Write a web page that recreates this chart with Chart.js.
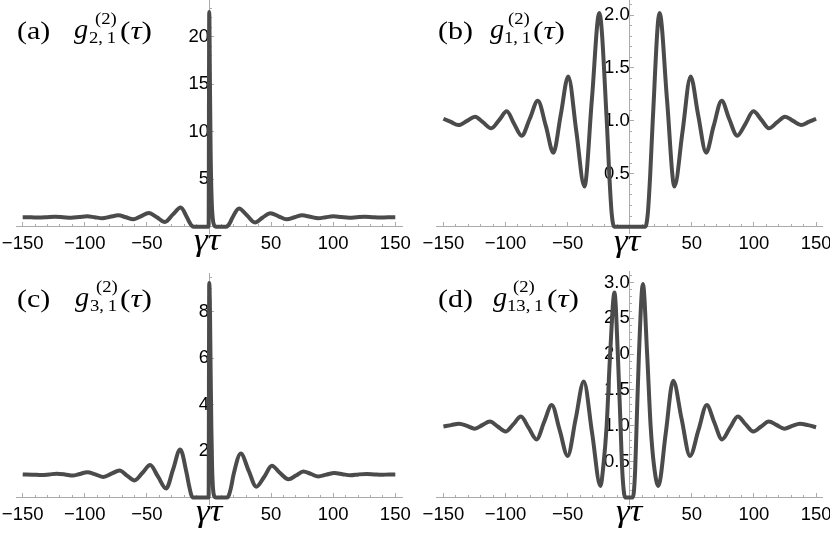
<!DOCTYPE html>
<html><head><meta charset="utf-8">
<script src="https://cdn.jsdelivr.net/npm/chart.js@4"></script>
<style>
html,body{margin:0;padding:0;background:#fff;}
#wrap{position:relative;width:830px;height:537px;overflow:hidden;background:#fff;}
canvas{position:absolute;}
.t{position:absolute;white-space:nowrap;font-family:'Liberation Serif','Times New Roman',serif;color:#000;line-height:1;transform-origin:0 0;}
</style></head><body><div id="wrap"></div>
<script>
// ---------- data ----------
const xTickValues = [-150, -100, -50, 50, 100, 150];

// panel (a) g^(2)_{2,1}
const tauA = [-150,-143.5,-137,-130.5,-124,-117.5,-111,-104.5,-98,-92,
              -86,-79.5,-73,-67,-61,-55,-48.5,-42,-35.5,-29,
              -22.8,-17.8,-15.6,-13.8,-12,-0.3,0.2,0.7,1.3,2.1,
              3.0,4.2,5.5,13.5,15.2,17,19,24.2,30.5,37,
              43,49.5,56,62.5,69,75,81.5,88,94,100,
              106.5,113,119,125.5,131.5,138,144,150];
const gA   = [1.0,1.0,0.97,1.0,1.04,1.0,0.95,1.02,1.1,1.0,
              0.9,1.05,1.2,1.0,0.78,1.1,1.45,1.0,0.5,1.3,
              2.02,1.0,0.45,0.1,0,0,22.6,16,8,3,
              0.9,0.15,0,0,0.1,0.45,1.0,1.92,1.2,0.45,
              0.95,1.42,1.1,0.78,1.0,1.2,1.05,0.9,1.0,1.1,
              1.02,0.95,1.0,1.04,1.0,0.97,1.0,1.0];

// panel (b) g^(2)_{1,1}
const tauB = [-150,-144,-138,-131,-124.5,-118,-111.5,-105,-99,-93,
              -87,-80.5,-74,-67.5,-61.5,-55.5,-49.5,-43,-36.5,-30.5,
              -24.5,-18.5,-16.5,-14.5,-12.5,12.5,14.5,16.5,18.5,24,
              30,36,42.5,49,55,61.5,67.5,74,80,86.5,
              93,99.5,106,112,118.5,125,131.5,138,144,150];
const gB   = [1.02,0.99,0.96,1.0,1.04,0.985,0.93,1.01,1.09,0.97,
              0.86,1.02,1.19,0.95,0.70,1.06,1.42,0.9,0.38,1.2,
              2.02,1.0,0.5,0.12,0,0,0.12,0.5,1.0,2.02,
              1.2,0.38,0.9,1.42,1.06,0.70,0.95,1.19,1.02,0.86,
              0.97,1.09,1.01,0.93,0.985,1.04,1.0,0.96,0.99,1.02];

// panel (c) g^(2)_{3,1}
const tauC = [-150,-142,-134.7,-128.5,-122.6,-116,-109.7,-104,-98,-91.5,
              -85,-78.5,-72,-66,-60,-53.5,-47.4,-41,-34.5,-29,
              -23.2,-18,-16,-14.3,-12.8,-0.3,0.2,0.8,1.3,1.9,
              2.5,3.3,4.3,5.3,14.5,16,17.8,19.8,25.6,32,
              38,44.5,50.6,57,64,70,76,82,88,94.5,
              101,107.5,113.8,120.5,127,133,139,145,150];
const gC   = [1.0,0.99,0.97,1.0,1.03,1.0,0.95,1.02,1.09,1.0,
              0.89,1.03,1.17,0.95,0.74,1.07,1.4,0.9,0.39,1.2,
              2.07,1.05,0.5,0.12,0,0,9.25,8,5.5,3,
              1.3,0.35,0.05,0,0,0.1,0.45,1.0,1.9,1.15,
              0.47,0.9,1.37,1.07,0.79,0.95,1.13,1.02,0.91,0.99,
              1.06,1.01,0.96,1.0,1.02,1.0,0.98,1.0,1.0];

// panel (d) g^(2)_{13,1}
const tauD = [-150,-143.7,-137.5,-131,-124.8,-118.7,-112.6,-106.3,-100,-93.8,
              -87.6,-81.3,-75,-69,-62.8,-56.4,-50,-43.5,-37,-30.3,
              -23.6,-21.2,-18.6,-15.8,-12.3,-9.6,-7.4,-6.1,-4.6,-3.4,
              2.0,3.2,4.4,5.5,7.4,10.6,14.0,16.8,19.5,23.0,
              29,35,41.7,48.5,55.3,62,68,74.3,80.6,87,
              93.3,99.5,105.8,112,118.3,124.5,130.8,137,143.5,150];
const gD   = [0.99,1.01,1.03,1.0,0.96,1.01,1.06,0.99,0.92,1.02,
              1.13,0.97,0.81,1.05,1.29,0.94,0.58,1.1,1.62,0.9,
              0.16,0.45,1.0,2.0,2.86,2.0,1.0,0.4,0.06,0,
              0,0.06,0.4,1.0,2.0,2.98,2.0,1.0,0.45,0.16,
              0.9,1.63,1.1,0.58,0.94,1.29,1.05,0.81,0.97,1.13,
              1.02,0.92,0.99,1.06,1.01,0.96,1.0,1.03,1.01,0.98];

const yTicksA = [5, 10, 15, 20];
const yTicksB = [0.5, 1.0, 1.5, 2.0];
const yTicksC = [2, 4, 6, 8];
const yTicksD = [0.5, 1.0, 1.5, 2.0, 2.5, 3.0];

const panelLetters = ['(a)', '(b)', '(c)', '(d)'];
const panelSubscripts = ['2,\u20091', '1,\u20091', '3,\u20091', '13,\u20091'];
const superscriptText = '(2)';
const xAxisTitle = 'γτ';

// ---------- layout / style ----------
const AXIS = '#ababab';
const LINE = '#4b4b4b';
const taus = [tauA, tauB, tauC, tauD];
const gs = [gA, gB, gC, gD];
const yTicks = [yTicksA, yTicksB, yTicksC, yTicksD];
const layoutCfg = [
  {left:0,   top:0,   w:415, h:268, pad:{left:16,   right:13,  top:0, bottom:34.7}, ymin:-0.69,  ymax:23.86, minor:1,   dec:0},
  {left:415, top:0,   w:415, h:268, pad:{left:21.7, right:7.2, top:0, bottom:34.7}, ymin:-0.062, ymax:2.142, minor:0.1, dec:1},
  {left:0,   top:268, w:415, h:269, pad:{left:16,   right:13,  top:5, bottom:32.9}, ymin:-0.28,  ymax:9.68,  minor:0.5, dec:0},
  {left:415, top:268, w:415, h:269, pad:{left:21.7, right:7.2, top:3, bottom:32.9}, ymin:-0.092, ymax:3.16,  minor:0.1, dec:1}
];
const titlePos = [
  {lx:17,  g:74,  sup:95,  sub:89,  tau:120, base:38,  gtx:194, gtb:250},
  {lx:438, g:490, sup:508, sub:504, tau:533, base:38,  gtx:614, gtb:251},
  {lx:17,  g:75,  sup:96,  sub:90,  tau:120, base:306, gtx:196, gtb:521},
  {lx:438, g:493, sup:513, sub:507, tau:547, base:306, gtx:616, gtb:521}
];

Chart.defaults.font.family = "'Liberation Sans', Arial, sans-serif";

const wrap = document.getElementById('wrap');
function addText(html, x, base, size, italic, sx) {
  const s = document.createElement('span');
  s.className = 't';
  s.style.fontSize = size + 'px';
  s.style.left = x + 'px';
  s.style.top = (base - 0.8375 * size) + 'px';
  if (italic) s.style.fontStyle = 'italic';
  if (sx) s.style.transform = 'scaleX(' + sx + ')';
  s.innerHTML = html;
  wrap.appendChild(s);
}

function alignPx(p) { return Math.round(p - 0.5) + 0.5; }

const tickPlugin = {
  id: 'axisTicks',
  beforeDatasetsDraw(chart, args, opts) {
    const {ctx} = chart;
    const xs = chart.scales.x, ys = chart.scales.y;
    const x0 = alignPx(xs.getPixelForValue(0));
    const y0 = alignPx(ys.getPixelForValue(0));
    ctx.save();
    ctx.strokeStyle = AXIS;
    ctx.lineWidth = 1;
    ctx.beginPath();
    for (let v = -150; v <= 150; v += 10) {
      if (v === 0) continue;
      const px = alignPx(xs.getPixelForValue(v));
      const len = (v % 50 === 0) ? 4.5 : 2.5;
      ctx.moveTo(px, y0); ctx.lineTo(px, y0 - len);
    }
    const majors = opts.majors;
    const n = Math.floor(ys.max / opts.minor + 1e-6);
    for (let k = 1; k <= n; k++) {
      const v = k * opts.minor;
      const isMajor = majors.some(m => Math.abs(m - v) < 1e-6);
      const py = alignPx(ys.getPixelForValue(v));
      const len = isMajor ? 4.5 : 2.5;
      ctx.moveTo(x0, py); ctx.lineTo(x0 + len, py);
    }
    ctx.stroke();
    ctx.restore();
  }
};

function fmtX(v) {
  if (v === 0) return '';
  return v < 0 ? '\u2212' + Math.abs(v) : String(v);
}

function makeChart(i) {
  const L = layoutCfg[i];
  const c = document.createElement('canvas');
  c.width = L.w; c.height = L.h;
  c.style.left = L.left + 'px'; c.style.top = L.top + 'px';
  c.style.width = L.w + 'px'; c.style.height = L.h + 'px';
  wrap.appendChild(c);
  const pts = taus[i].map((t, k) => ({x: t, y: gs[i][k]}));
  const zeroPad = s => { s.paddingLeft = 0; s.paddingRight = 0; s.paddingTop = 0; s.paddingBottom = 0; };
  new Chart(c, {
    type: 'line',
    data: {datasets: [{data: pts, borderColor: LINE, borderWidth: 4, pointRadius: 0,
                       cubicInterpolationMode: 'monotone', fill: false}]},
    options: {
      responsive: false, animation: false, devicePixelRatio: 1, events: [],
      layout: {padding: L.pad},
      plugins: {legend: {display: false}, tooltip: {enabled: false}, title: {display: false},
                axisTicks: {minor: L.minor, majors: yTicks[i]}},
      scales: {
        x: {type: 'linear', min: -155.4, max: 155.4, position: {y: 0},
            grid: {display: false}, border: {display: true, color: AXIS, width: 1},
            afterBuildTicks: s => { s.ticks = xTickValues.map(v => ({value: v})); },
            afterFit: zeroPad,
            ticks: {autoSkip: false, maxRotation: 0, minRotation: 0, padding: 0, color: '#000',
                    font: {size: 18.5, lineHeight: 1}, callback: v => fmtX(v)}},
        y: {type: 'linear', min: L.ymin, max: L.ymax, position: {x: 0},
            grid: {display: false}, border: {display: true, color: AXIS, width: 1},
            afterBuildTicks: s => { s.ticks = yTicks[i].map(v => ({value: v})); },
            afterFit: zeroPad,
            ticks: {autoSkip: false, padding: 3, color: '#000', font: {size: 18.5, lineHeight: 1},
                    callback: v => v.toFixed(L.dec)}}
      }
    },
    plugins: [tickPlugin]
  });

  const P = titlePos[i];
  addText(panelLetters[i], P.lx, P.base + 1, 25, false, 1.2);
  addText('g', P.g, P.base + 1, 27, true, 1.05);
  addText(superscriptText, P.sup, P.base - 13.5, 17, false, 1.1);
  addText(panelSubscripts[i], P.sub, P.base + 5, 17, false, 1.1);
  addText('(<i>τ</i>)', P.tau, P.base + 1, 25, false, 1.25);
  addText('<i>' + xAxisTitle + '</i>', P.gtx, P.gtb, 32, false, 1.1);
}

for (let i = 0; i < 4; i++) makeChart(i);
</script>
</body></html>
